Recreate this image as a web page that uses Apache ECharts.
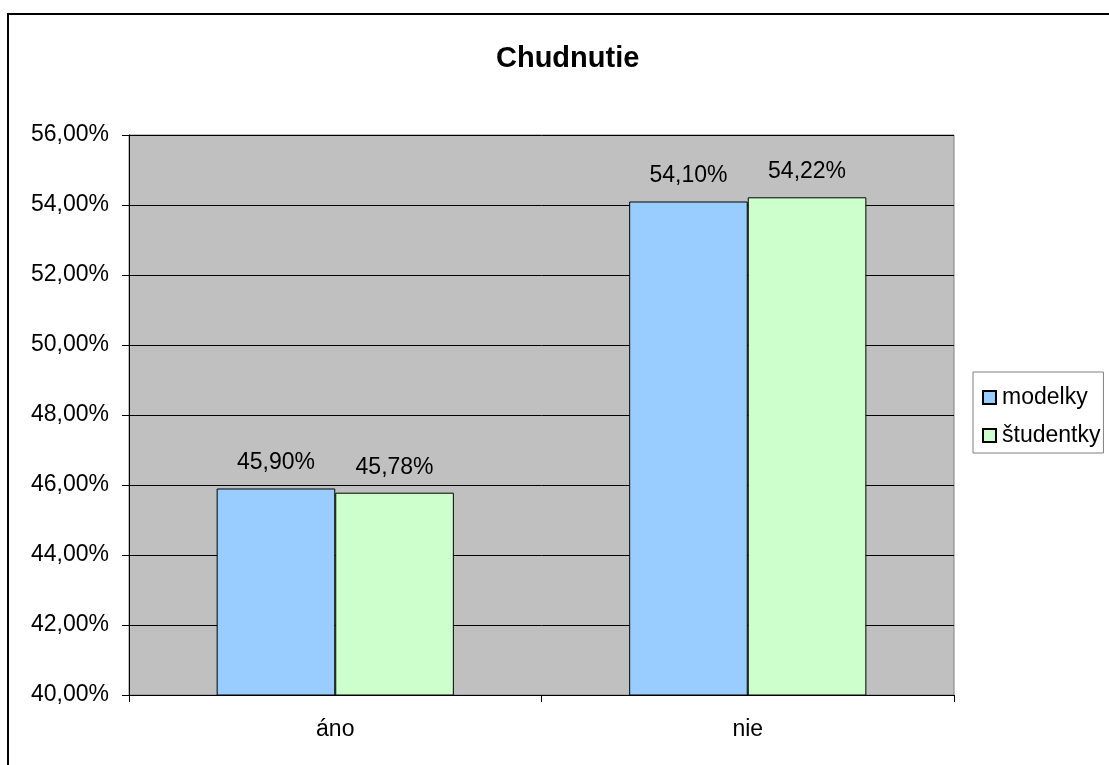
<!DOCTYPE html>
<html><head><meta charset="utf-8">
<script src="https://cdn.jsdelivr.net/npm/echarts@6/dist/echarts.min.js"></script>
<style>html,body{margin:0;padding:0;background:#fff}#c{width:1109px;height:765px}</style>
</head><body><div id="c"></div>
<script>
const categories = ['áno', 'nie'];
const seriesNames = ['modelky', 'študentky'];
const modelky = [45.90, 54.10];
const studentky = [45.78, 54.22];
const yTicks = {min: 40, max: 56, interval: 2};

const fmt = v => v.toFixed(2).replace('.', ',') + '%';
const font = '"Liberation Sans", Arial, sans-serif';
const chart = echarts.init(document.getElementById('c'));
const lbl = {show: true, position: 'top', distance: 14, color: '#000', fontSize: 23, fontFamily: font,
  formatter: p => fmt(p.value)};
chart.setOption({
  animation: false,
  backgroundColor: '#fff',
  textStyle: {fontFamily: font},
  title: {text: 'Chudnutie', left: 491, top: 39, textStyle: {fontSize: 29, fontWeight: 'bold', color: '#000', fontFamily: font}},
  graphic: [{type: 'rect', shape: {x: 8, y: 14, width: 1200, height: 1000}, style: {fill: 'none', stroke: '#000', lineWidth: 2}, z: 100}],
  legend: {
    orient: 'vertical', left: 973, top: 372, itemWidth: 13, itemHeight: 13, itemGap: 15,
    padding: [14, 3, 6, 9], borderColor: '#808080', borderWidth: 1,
    textStyle: {fontSize: 23, color: '#000', fontFamily: font, padding: [0, 0, 0, 1]},
    icon: 'rect', data: seriesNames
  },
  grid: {left: 129, top: 135, right: 155, bottom: 70, show: true, backgroundColor: '#c0c0c0', borderColor: '#808080', borderWidth: 1},
  xAxis: {
    type: 'category', data: categories,
    axisLine: {lineStyle: {color: '#000', width: 1}},
    axisTick: {show: true, length: 7, lineStyle: {color: '#000'}},
    axisLabel: {fontSize: 23, color: '#000', margin: 23, fontFamily: font}
  },
  yAxis: {
    type: 'value', min: yTicks.min, max: yTicks.max, interval: yTicks.interval,
    axisLine: {show: true, lineStyle: {color: '#000'}},
    axisTick: {show: true, length: 7, lineStyle: {color: '#000'}},
    axisLabel: {fontSize: 23, color: '#000', margin: 20, formatter: v => fmt(v), fontFamily: font},
    splitLine: {show: true, lineStyle: {color: '#000', width: 1}}
  },
  series: [
    {name: seriesNames[0], type: 'bar', data: modelky, barGap: '0%', barCategoryGap: '42.5%',
     itemStyle: {color: '#99ccff', borderColor: '#000', borderWidth: 1}, label: lbl},
    {name: seriesNames[1], type: 'bar', data: studentky,
     itemStyle: {color: '#ccffcc', borderColor: '#000', borderWidth: 1}, label: lbl}
  ]
});
</script></body></html>
